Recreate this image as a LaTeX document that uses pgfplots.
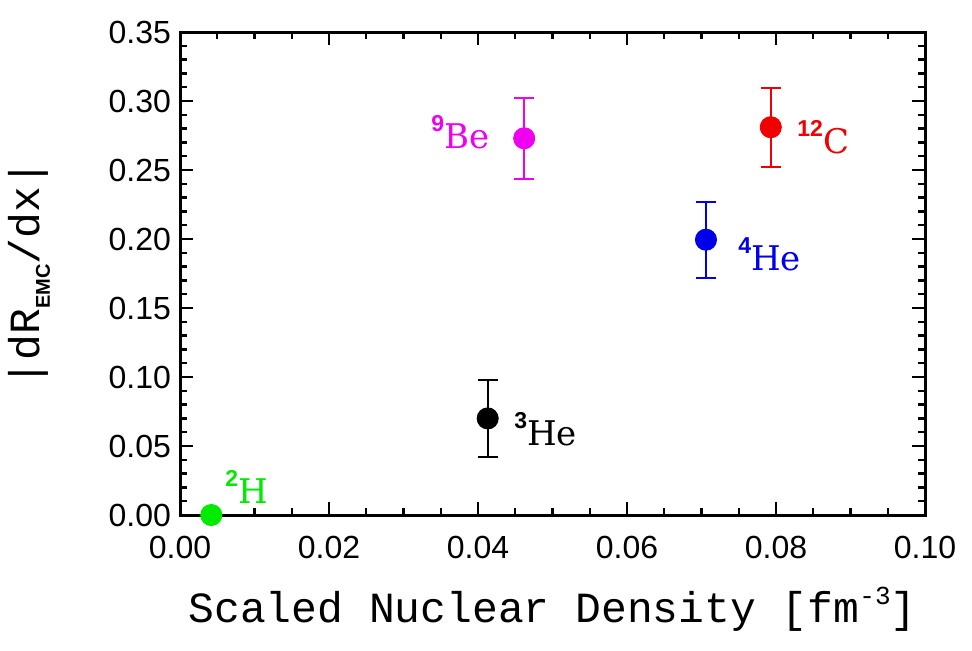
\documentclass[border=0pt]{standalone}
\usepackage{fontspec}
\setmainfont{DejaVu Serif}
\setsansfont{Liberation Sans}
\setmonofont{Liberation Mono}
\usepackage{pgfplots}
\pgfplotsset{compat=1.18}
\definecolor{cgreen}{RGB}{0,235,0}
\definecolor{cmag}{RGB}{240,0,240}
\definecolor{cred}{RGB}{240,0,0}
\definecolor{cblue}{RGB}{0,0,235}
\newcommand{\isosup}[1]{\raisebox{8.3pt}{\sffamily\bfseries\fontsize{11.5}{11.5}\selectfont #1}}
\newcommand{\nuc}[2]{\isosup{#1}\fontsize{17}{17}\selectfont #2}
\begin{document}
\begin{tikzpicture}
\begin{axis}[
  scale only axis, width=372.5pt, height=241.5pt,
  xmin=0, xmax=0.1, ymin=0, ymax=0.35,
  xtick={0,0.02,0.04,0.06,0.08,0.1},
  ytick={0,0.05,0.1,0.15,0.2,0.25,0.3,0.35},
  minor x tick num=3, minor y tick num=4,
  tick align=inside, xtick pos=both, ytick pos=both,
  xticklabel pos=left, yticklabel pos=left,
  major tick length=6.5pt, minor tick length=3.5pt,
  major tick style={line width=1.2pt, black},
  minor tick style={line width=1.2pt, black},
  axis background/.style={draw=black, line width=1.5pt},
  scaled ticks=false,
  /pgf/number format/.cd, fixed, fixed zerofill, precision=2, assume math mode=true, /pgfplots/.cd,
  tick label style={font=\sffamily\fontsize{16}{16}\selectfont},
  xticklabel style={yshift=-7pt},
  yticklabel style={xshift=-1pt},
  clip=false,
  xlabel={\ttfamily\fontsize{21.5}{21.5}\selectfont Scaled Nuclear Density [fm\raisebox{9pt}{\fontsize{13}{13}\selectfont -3}]},
  ylabel={\ttfamily\fontsize{21.5}{21.5}\selectfont |dR\raisebox{-5pt}{\sffamily\bfseries\fontsize{10}{10}\selectfont EMC}/dx|},
  every axis x label/.style={at={(axis description cs:0.5,0)}, anchor=base, yshift=-53.5pt},
  every axis y label/.style={at={(axis description cs:0,0.5)}, xshift=-70pt, rotate=90, anchor=base},
  error bars/error bar style={line width=1pt},
  error bars/error mark options={rotate=90, mark size=5pt, line width=1pt},
]
\coordinate (bl) at (rel axis cs:0,0);
% 2H
\addplot[only marks, mark=*, mark size=5.3pt, color=cgreen] coordinates {(0.0042,0.0)};
% 3He
\addplot[only marks, mark=*, mark size=5.3pt, color=black,
  error bars/.cd, y dir=both, y explicit] coordinates {(0.0413,0.0700) +- (0,0.0280)};
% 9Be
\addplot[only marks, mark=*, mark size=5.3pt, color=cmag,
  error bars/.cd, y dir=both, y explicit] coordinates {(0.0462,0.2730) +- (0,0.0295)};
% 12C
\addplot[only marks, mark=*, mark size=5.3pt, color=cred,
  error bars/.cd, y dir=both, y explicit] coordinates {(0.0793,0.2810) +- (0,0.0285)};
% 4He
\addplot[only marks, mark=*, mark size=5.3pt, color=cblue,
  error bars/.cd, y dir=both, y explicit] coordinates {(0.0706,0.1995) +- (0,0.0275)};

\node[anchor=base west, inner sep=0, text=cgreen] at (axis cs:0.00604,0.0087) {\nuc{2}{H}};
\node[anchor=base west, inner sep=0, text=black] at (axis cs:0.04483,0.0507) {\nuc{3}{He}};
\node[anchor=base west, inner sep=0, text=cmag] at (axis cs:0.03369,0.2659) {\nuc{9}{Be}};
\node[anchor=base west, inner sep=0, text=cred] at (axis cs:0.08282,0.2623) {\nuc{12}{C}};
\node[anchor=base west, inner sep=0, text=cblue] at (axis cs:0.0749,0.1775) {\nuc{4}{He}};
\end{axis}
\pgfresetboundingbox
\path ([shift={(-90pt,-67.5pt)}]bl) rectangle ([shift={(396pt,257.5pt)}]bl);
\end{tikzpicture}
\end{document}
